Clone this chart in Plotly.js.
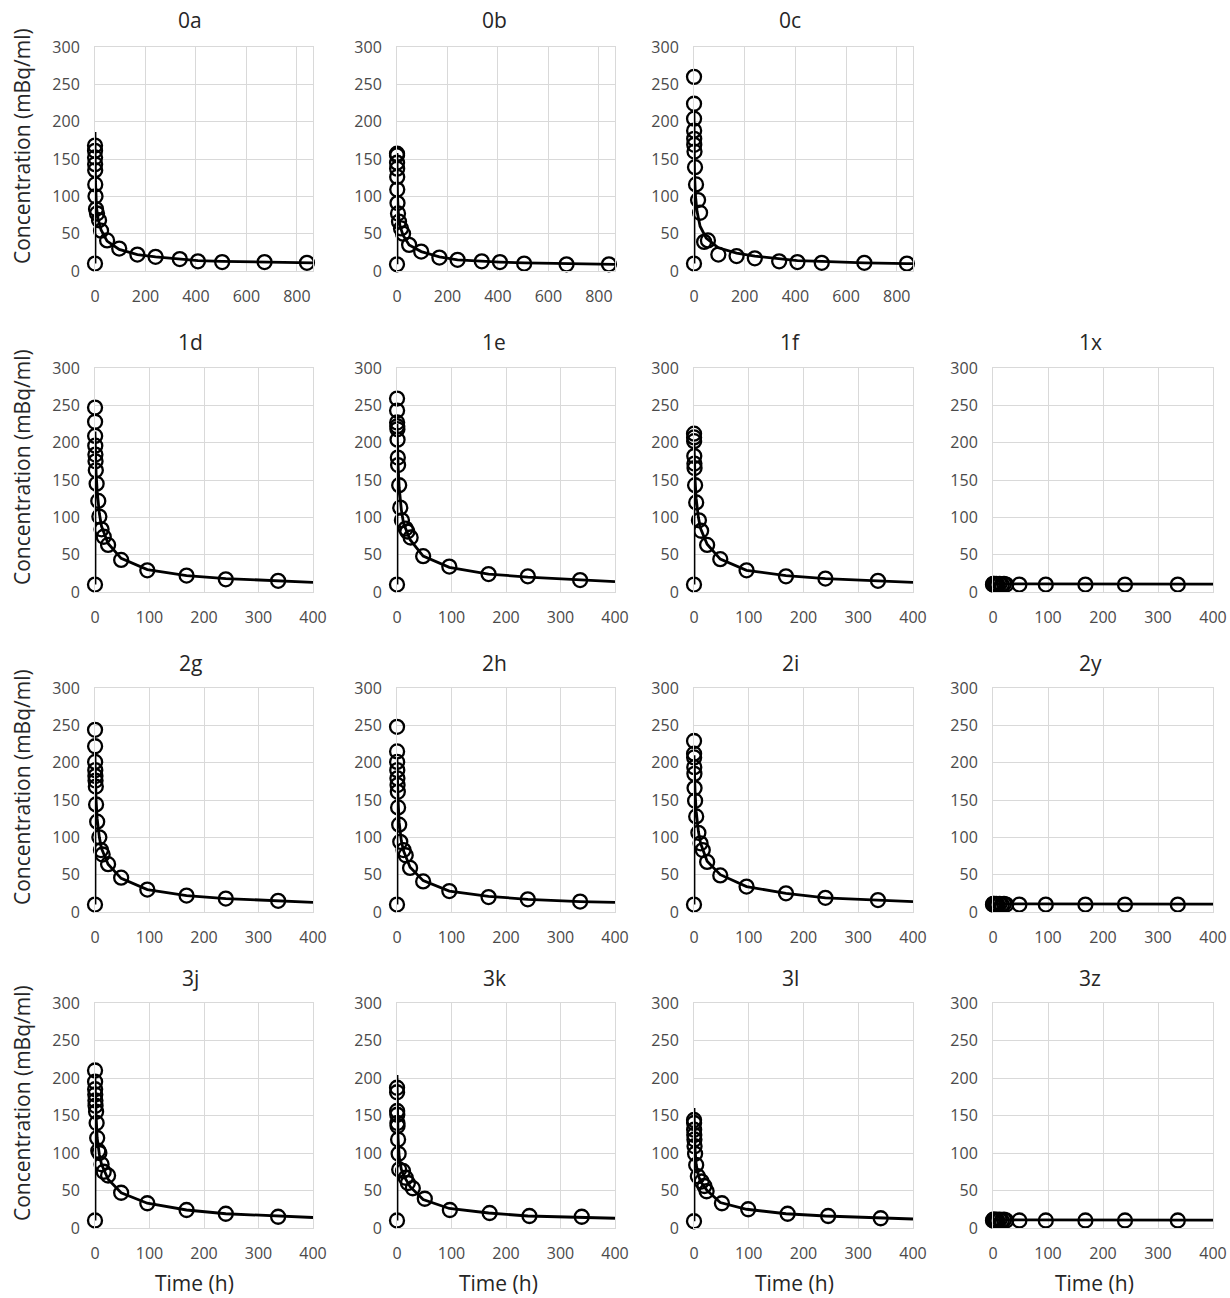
<!DOCTYPE html>
<html>
<head>
<meta charset="utf-8">
<script src="https://cdn.plot.ly/plotly-3.0.1.min.js"></script>
<style>html,body{margin:0;padding:0;background:#fff;}#chart{width:1230px;height:1298px;}</style>
</head>
<body>
<div id="chart"></div>
<script>
// ---------- DATA ----------
var panelNames = ["0a","0b","0c","1d","1e","1f","1x","2g","2h","2i","2y","3j","3k","3l","3z"];

// observed points: time (h) and concentration (mBq/ml)
var t_0a = [0,0.08,0.17,0.25,0.5,0.75,1,2,4,8,16,24,48,96,168,240,336,408,504,672,840];
var c_0a = [10,168,161,152,143,135,116,100,83,77,68,54,41,30,22,19,16,13,12,12,11];
var t_0b = [0,0.08,0.17,0.25,0.5,0.75,1,2,4,8,16,24,48,96,168,240,336,408,504,672,840];
var c_0b = [9,157,155,145,137,126,109,91,77,66,57,50,35,26,18,15,13,12,10,9,9];
var t_0c = [0,0.08,0.17,0.25,0.5,0.75,1,2,4,8,16,24,40,55,96,168,240,336,408,504,672,840];
var c_0c = [10,260,224,204,188,177,169,160,139,116,95,78,39,41,22,20,17,13,12,11,11,10];

var t_1d = [0,0.08,0.17,0.25,0.5,0.75,1,1.5,3,6,8,12,16,24,48,96,168,240,336];
var c_1d = [10,247,228,209,196,184,175,163,145,122,101,84,74,63,43,29,22,17,15];
var t_1e = [0,0.08,0.17,0.25,0.5,0.75,1,1.5,2,4,6,9,16,19,25,48,96,168,240,336];
var c_1e = [10,259,243,227,222,218,204,180,170,143,113,96,85,81,73,48,34,24,21,16];
var t_1f = [0,0.08,0.17,0.25,0.5,0.75,1,2,4,9,13,24,48,96,168,240,336];
var c_1f = [10,212,207,202,182,172,166,143,120,96,82,63,44,29,21,18,15];
var t_1x = [0,0.5,1,2,4,6,8,12,16,20,24,48,96,168,240,336];
var c_1x = [10,11,10,11,10,11,10,11,10,11,10,10,10,10,10,10];

var t_2g = [0,0.08,0.17,0.25,0.5,0.75,1,1.5,2,4,8,11,14,24,48,96,168,240,336];
var c_2g = [10,244,222,201,190,182,176,168,144,121,100,83,77,64,46,30,22,18,15];
var t_2h = [0,0.08,0.17,0.25,0.5,0.75,1,1.5,2,4,6,12,16,24,48,96,168,240,336];
var c_2h = [10,248,215,201,190,179,170,161,140,117,94,83,76,59,41,28,20,17,14];
var t_2i = [0,0.08,0.17,0.25,0.5,0.75,1,2,4,8,12,16,24,48,96,168,240,336];
var c_2i = [10,229,212,207,194,185,166,149,128,106,92,83,67,49,34,25,19,16];
var t_2y = [0,0.5,1,2,4,6,8,12,16,20,24,48,96,168,240,336];
var c_2y = [10,11,10,11,10,11,10,11,10,11,10,10,10,10,10,10];

var t_3j = [0,0.08,0.17,0.25,0.5,0.75,1,2,3,4,6,8,12,16,24,48,96,168,240,336];
var c_3j = [10,210,195,185,178,170,163,155,140,120,103,100,85,75,70,47,33,24,19,15];
var t_3k = [0,0.08,0.17,0.25,0.5,0.75,1,2,3,4,11,16,20,29,51,97,170,243,339];
var c_3k = [10,187,181,156,151,140,136,118,99,78,76,67,60,53,39,24,20,16,15];
var t_3l = [0,0.08,0.17,0.25,0.5,0.75,1,2,4,7,14,19,23,51,99,171,245,341];
var c_3l = [9,144,140,131,124,118,109,99,84,69,62,56,49,33,25,19,16,13];
var t_3z = [0,0.5,1,2,4,6,8,12,16,20,24,48,96,168,240,336];
var c_3z = [10,11,10,11,10,11,10,11,10,11,10,10,10,10,10,10];

// fitted curves
var fitT_long  = [0,0,2,6,12,24,48,96,168,240,336,408,504,672,840,864];
var fit_0a = [10,186,120,85,70,55,40,29,22,19,16,14,13,12,11,11];
var fit_0b = [9,158,100,75,60,48,35,26,19,15,13,12,11,10,9,9];
var fit_0c = [10,215,130,100,80,60,44,31,24,20,16,14,13,11,10,10];

var fitT_short = [0,0,2,4,8,12,24,48,96,168,240,336,400];
var fit_1d = [10,215,160,135,105,88,65,45,30,22,18,15,13];
var fit_1e = [10,225,170,140,110,92,70,48,33,24,20,16,14];
var fit_1f = [10,200,150,125,100,85,64,44,29,22,18,15,13];
var fit_1x = [10,11,11,11,11,11,11,11,11,10.5,10.5,10.5,10.5];
var fit_2g = [10,210,150,125,100,85,64,45,30,22,18,15,13];
var fit_2h = [10,205,150,120,95,82,60,42,28,21,17,14,13];
var fit_2i = [10,210,160,135,108,92,68,50,34,25,19,16,14];
var fit_2y = [10,11,11,11,11,11,11,11,11,10.5,10.5,10.5,10.5];
var fit_3j = [10,200,150,120,98,85,65,47,33,24,19,16,14];
var fit_3k = [10,204,120,95,78,70,55,38,26,20,16,14,13];
var fit_3l = [9,160,105,85,70,62,50,34,25,19,16,13,12];
var fit_3z = [10,11,11,11,11,11,11,11,11,10.5,10.5,10.5,10.5];

var yTitle = "Concentration (mBq/ml)";
var xTitle = "Time (h)";

// ---------- LAYOUT GEOMETRY ----------
var W = 1230, H = 1298;
var colPx = [[95,313],[397,615],[694,913],[993,1213]];
var rowPx = [[47,271],[368,592],[688,912],[1003,1228]];
var titleX = [190,494,790,1090];
var titleY = [20,342,663,978];
var yTitleY = [146,467,787,1103];

var obs = {
  "0a":[t_0a,c_0a],"0b":[t_0b,c_0b],"0c":[t_0c,c_0c],
  "1d":[t_1d,c_1d],"1e":[t_1e,c_1e],"1f":[t_1f,c_1f],"1x":[t_1x,c_1x],
  "2g":[t_2g,c_2g],"2h":[t_2h,c_2h],"2i":[t_2i,c_2i],"2y":[t_2y,c_2y],
  "3j":[t_3j,c_3j],"3k":[t_3k,c_3k],"3l":[t_3l,c_3l],"3z":[t_3z,c_3z]
};
var fits = {
  "0a":[fitT_long,fit_0a],"0b":[fitT_long,fit_0b],"0c":[fitT_long,fit_0c],
  "1d":[fitT_short,fit_1d],"1e":[fitT_short,fit_1e],"1f":[fitT_short,fit_1f],"1x":[fitT_short,fit_1x],
  "2g":[fitT_short,fit_2g],"2h":[fitT_short,fit_2h],"2i":[fitT_short,fit_2i],"2y":[fitT_short,fit_2y],
  "3j":[fitT_short,fit_3j],"3k":[fitT_short,fit_3k],"3l":[fitT_short,fit_3l],"3z":[fitT_short,fit_3z]
};

var FONT = "Open Sans, Liberation Sans, sans-serif";
var data = [];
var layout = {
  width: W, height: H, autosize: false,
  margin: {l:0, r:0, t:0, b:0},
  paper_bgcolor: "#ffffff", plot_bgcolor: "#ffffff",
  showlegend: false,
  font: {family: FONT, color: "#404040"},
  annotations: []
};

panelNames.forEach(function(name, i){
  var row, col;
  if (i < 3) { row = 0; col = i; } else { row = 1 + Math.floor((i-3)/4); col = (i-3)%4; }
  var k = i + 1;
  var xa = "xaxis" + (k===1?"":k), ya = "yaxis" + (k===1?"":k);
  var xr = "x" + (k===1?"":k), yr = "y" + (k===1?"":k);
  var longX = row === 0;
  layout[xa] = {
    domain: [colPx[col][0]/W, colPx[col][1]/W],
    anchor: yr,
    range: longX ? [0,864] : [0,400],
    tickmode: "linear", tick0: 0, dtick: longX ? 200 : 100,
    showgrid: true, gridcolor: "#d9d9d9", gridwidth: 1,
    zeroline: false, showline: true, linecolor: "#d9d9d9", linewidth: 1, mirror: true,
    ticks: "", ticklabelstandoff: 11,
    tickfont: {family: FONT, size: 16, color: "#4a4a4a"},
    fixedrange: true
  };
  layout[ya] = {
    domain: [1 - rowPx[row][1]/H, 1 - rowPx[row][0]/H],
    anchor: xr,
    range: [0,300], tickmode: "linear", tick0: 0, dtick: 50,
    showgrid: true, gridcolor: "#d9d9d9", gridwidth: 1,
    zeroline: false, showline: true, linecolor: "#d9d9d9", linewidth: 1, mirror: true,
    ticks: "", ticklabelstandoff: 11,
    tickfont: {family: FONT, size: 16, color: "#4a4a4a"},
    fixedrange: true
  };
  // fitted line
  data.push({
    type: "scatter", mode: "lines", x: fits[name][0], y: fits[name][1],
    xaxis: xr, yaxis: yr, cliponaxis: false,
    line: {color: "#000000", width: 2.8}, hoverinfo: "skip"
  });
  // observations
  data.push({
    type: "scatter", mode: "markers", x: obs[name][0], y: obs[name][1],
    xaxis: xr, yaxis: yr, cliponaxis: false,
    marker: {symbol: "circle-open", size: 14, color: "#000000", line: {width: 2.3, color: "#000000"}}
  });
  // panel title
  layout.annotations.push({
    xref: "paper", yref: "paper", x: titleX[col]/W, y: 1 - titleY[row]/H,
    xanchor: "center", yanchor: "middle", showarrow: false,
    text: name, font: {family: FONT, size: 21, color: "#262626"}
  });
  if (row === 3) {
    layout.annotations.push({
      xref: "paper", yref: "paper", x: (titleX[col]+4)/W, y: 1 - 1283/H,
      xanchor: "center", yanchor: "middle", showarrow: false,
      text: xTitle, font: {family: FONT, size: 21, color: "#262626"}
    });
  }
  if (col === 0) {
    layout.annotations.push({
      xref: "paper", yref: "paper", x: 22/W, y: 1 - yTitleY[row]/H,
      xanchor: "center", yanchor: "middle", showarrow: false, textangle: -90,
      text: yTitle, font: {family: FONT, size: 21, color: "#262626"}
    });
  }
});

Plotly.newPlot("chart", data, layout, {staticPlot: true, displayModeBar: false});
</script>
</body>
</html>
